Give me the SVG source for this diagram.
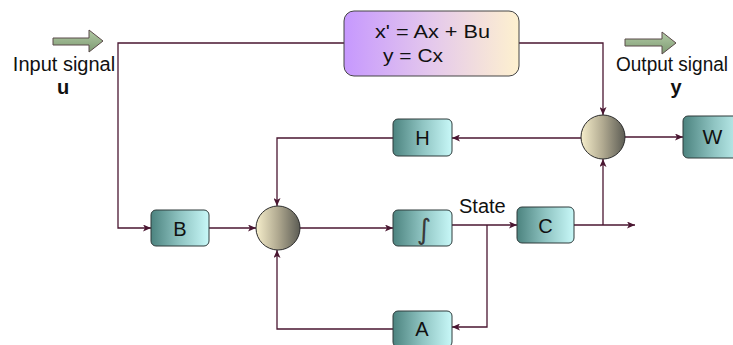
<svg xmlns="http://www.w3.org/2000/svg" width="733" height="345" viewBox="0 0 733 345">
  <style>
    .wire { fill: none; stroke: #4a1631; stroke-width: 1.3; }
    .arr { marker-end: url(#head); }
    .blk { fill: url(#teal); stroke: #2e3b3b; stroke-width: 1; }
    .sum { fill: url(#bronze); stroke: #2b2b2b; stroke-width: 1; }
    .lbl { font-family: "Liberation Sans", Arial, sans-serif; fill: #111; }
    .big { fill: url(#sage); stroke: #5b4a4a; stroke-width: 1; }
  </style>
  <defs>
    <linearGradient id="teal" x1="0" y1="0" x2="1" y2="0">
      <stop offset="0" stop-color="#4c837f"/>
      <stop offset="0.5" stop-color="#8fc4c2"/>
      <stop offset="1" stop-color="#c8f8f8"/>
    </linearGradient>
    <linearGradient id="bronze" x1="0" y1="0" x2="1" y2="0">
      <stop offset="0" stop-color="#f6eecb"/>
      <stop offset="0.5" stop-color="#b0a990"/>
      <stop offset="1" stop-color="#5c5c54"/>
    </linearGradient>
    <linearGradient id="lilac" x1="0" y1="0" x2="1" y2="0">
      <stop offset="0" stop-color="#c698fe"/>
      <stop offset="0.5" stop-color="#e4c8ec"/>
      <stop offset="1" stop-color="#fef1cf"/>
    </linearGradient>
    <linearGradient id="sage" x1="0" y1="0" x2="0" y2="1">
      <stop offset="0" stop-color="#b3cba6"/>
      <stop offset="1" stop-color="#7d9a72"/>
    </linearGradient>
    <marker id="head" viewBox="0 0 8 7" refX="8" refY="3.5" markerWidth="8" markerHeight="7" markerUnits="userSpaceOnUse" orient="auto">
      <path d="M0,0 L8,3.5 L0,7 L2,3.5 z" fill="#4a1631"/>
    </marker>
  </defs>

  <!-- connectors -->
  <g id="connectors">
    <path class="wire arr" d="M344,43 H118 V228 H151"/>
    <path class="wire arr" d="M209,228 H256"/>
    <path class="wire arr" d="M300,228 H393"/>
    <path class="wire arr" d="M452,225 H517"/>
    <path class="wire arr" d="M487,225 V327 H452"/>
    <path class="wire arr" d="M393,329 H277 V250"/>
    <path class="wire arr" d="M393,138 H277 V206"/>
    <path class="wire arr" d="M581,138 H452"/>
    <path class="wire arr" d="M625,137 H683"/>
    <path class="wire arr" d="M574,225 H635"/>
    <path class="wire arr" d="M603,225 V159"/>
    <path class="wire arr" d="M519,43 H603 V115"/>
  </g>

  <!-- input side -->
  <g id="input">
    <polygon class="big" points="53,38 89,38 89,30 103,41 89,52 89,45 53,45"/>
    <text class="lbl" x="64" y="71" font-size="20" text-anchor="middle">Input signal</text>
    <text class="lbl" x="63" y="94" font-size="20" font-weight="bold" text-anchor="middle">u</text>
  </g>

  <!-- output side -->
  <g id="output">
    <polygon class="big" points="625,39 662,39 662,32 676,43 662,54 662,46 625,46"/>
    <text class="lbl" x="616" y="71" font-size="20" textLength="112" lengthAdjust="spacingAndGlyphs">Output signal</text>
    <text class="lbl" x="676" y="94" font-size="20" font-weight="bold" text-anchor="middle">y</text>
  </g>

  <!-- state-space equations -->
  <g id="equations">
    <rect x="344" y="11" width="175" height="65" rx="10" fill="url(#lilac)" stroke="#444" stroke-width="1"/>
    <text class="lbl" x="375" y="38" font-size="19" textLength="115" lengthAdjust="spacingAndGlyphs">x' = Ax + Bu</text>
    <text class="lbl" x="383" y="62" font-size="19" textLength="60" lengthAdjust="spacingAndGlyphs">y = Cx</text>
  </g>

  <g id="B">
    <rect class="blk" x="151" y="210" width="58" height="36" rx="5"/>
    <text class="lbl" x="180" y="236" font-size="20" text-anchor="middle">B</text>
  </g>

  <g id="sum1">
    <circle class="sum" cx="278" cy="228" r="22"/>
  </g>

  <g id="integrator">
    <rect class="blk" x="393" y="210" width="59" height="36" rx="5"/>
    <text x="424" y="239" font-size="28" font-family="'DejaVu Sans', sans-serif" fill="#3a3a3a" text-anchor="middle">∫</text>
  </g>

  <g id="state">
    <text class="lbl" x="459" y="213" font-size="20">State</text>
  </g>

  <g id="C">
    <rect class="blk" x="517" y="207" width="57" height="36" rx="5"/>
    <text class="lbl" x="545.5" y="233" font-size="20" text-anchor="middle">C</text>
  </g>

  <g id="H">
    <rect class="blk" x="393" y="119" width="59" height="37" rx="5"/>
    <text class="lbl" x="422.5" y="145" font-size="20" text-anchor="middle">H</text>
  </g>

  <g id="A">
    <rect class="blk" x="393" y="311" width="59" height="36" rx="5"/>
    <text class="lbl" x="422" y="336" font-size="20" text-anchor="middle">A</text>
  </g>

  <g id="sum2">
    <circle class="sum" cx="603" cy="137" r="22"/>
  </g>

  <g id="W">
    <rect class="blk" x="683" y="116" width="62" height="42" rx="5"/>
    <text class="lbl" x="712.5" y="144" font-size="21" text-anchor="middle">W</text>
  </g>
</svg>
